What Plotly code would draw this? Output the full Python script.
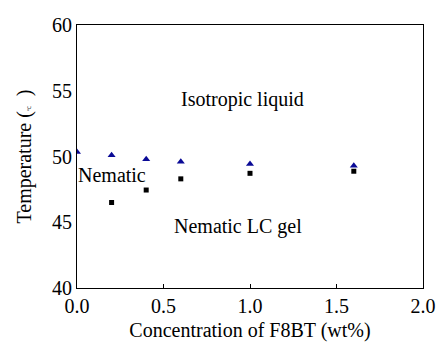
import plotly.graph_objects as go

conc_iso = [0.0, 0.2, 0.4, 0.6, 1.0, 1.6]
temp_iso = [50.35, 50.1, 49.8, 49.6, 49.43, 49.3]
conc_gel = [0.2, 0.4, 0.6, 1.0, 1.6]
temp_gel = [46.5, 47.45, 48.3, 48.72, 48.88]

x_ticks = [0.0, 0.5, 1.0, 1.5, 2.0]
x_ticklabels = ["0.0", "0.5", "1.0", "1.5", "2.0"]
y_ticks = [40, 45, 50, 55, 60]
y_ticklabels = ["40", "45", "50", "55", "60"]

labels = ["Isotropic liquid", "Nematic", "Nematic LC gel"]
label_x = [0.957, 0.205, 0.93]
label_y = [54.3, 48.6, 44.7]

FONT = "Liberation Serif"

fig = go.Figure()
fig.add_trace(go.Scatter(x=conc_iso, y=temp_iso, mode="markers",
                         marker=dict(symbol="triangle-up", size=7, color="#0A0A96"),
                         showlegend=False))
fig.add_trace(go.Scatter(x=conc_gel, y=temp_gel, mode="markers",
                         marker=dict(symbol="square", size=5, color="black"),
                         showlegend=False))

for t, xx, yy in zip(labels, label_x, label_y):
    fig.add_annotation(x=xx, y=yy, text=t, showarrow=False,
                       font=dict(family=FONT, size=20, color="black"))

fig.update_layout(
    width=436, height=342,
    margin=dict(l=77, r=13, t=25, b=54),
    paper_bgcolor="white", plot_bgcolor="white",
    font=dict(family=FONT, size=20, color="black"),
    showlegend=False,
)
fig.update_xaxes(range=[0, 2], tickvals=x_ticks, ticktext=x_ticklabels,
                 showgrid=False, zeroline=False, showline=True, mirror=True,
                 linecolor="black", linewidth=1, ticks="inside", ticklen=4,
                 tickcolor="black", tickfont=dict(family=FONT, size=20),
                 automargin=False,
                 title=dict(text="Concentration of F8BT (wt%)", font=dict(family=FONT, size=20), standoff=8))
fig.update_yaxes(range=[40, 60], tickvals=y_ticks, ticktext=y_ticklabels,
                 showgrid=False, zeroline=False, showline=True, mirror=True,
                 linecolor="black", linewidth=1, ticks="",
                 tickfont=dict(family=FONT, size=20),
                 automargin=False,
                 title=dict(text="Temperature (<span style='font-size:5px'>℃</span>  )", font=dict(family=FONT, size=20), standoff=15))

fig.write_html("out.html")
